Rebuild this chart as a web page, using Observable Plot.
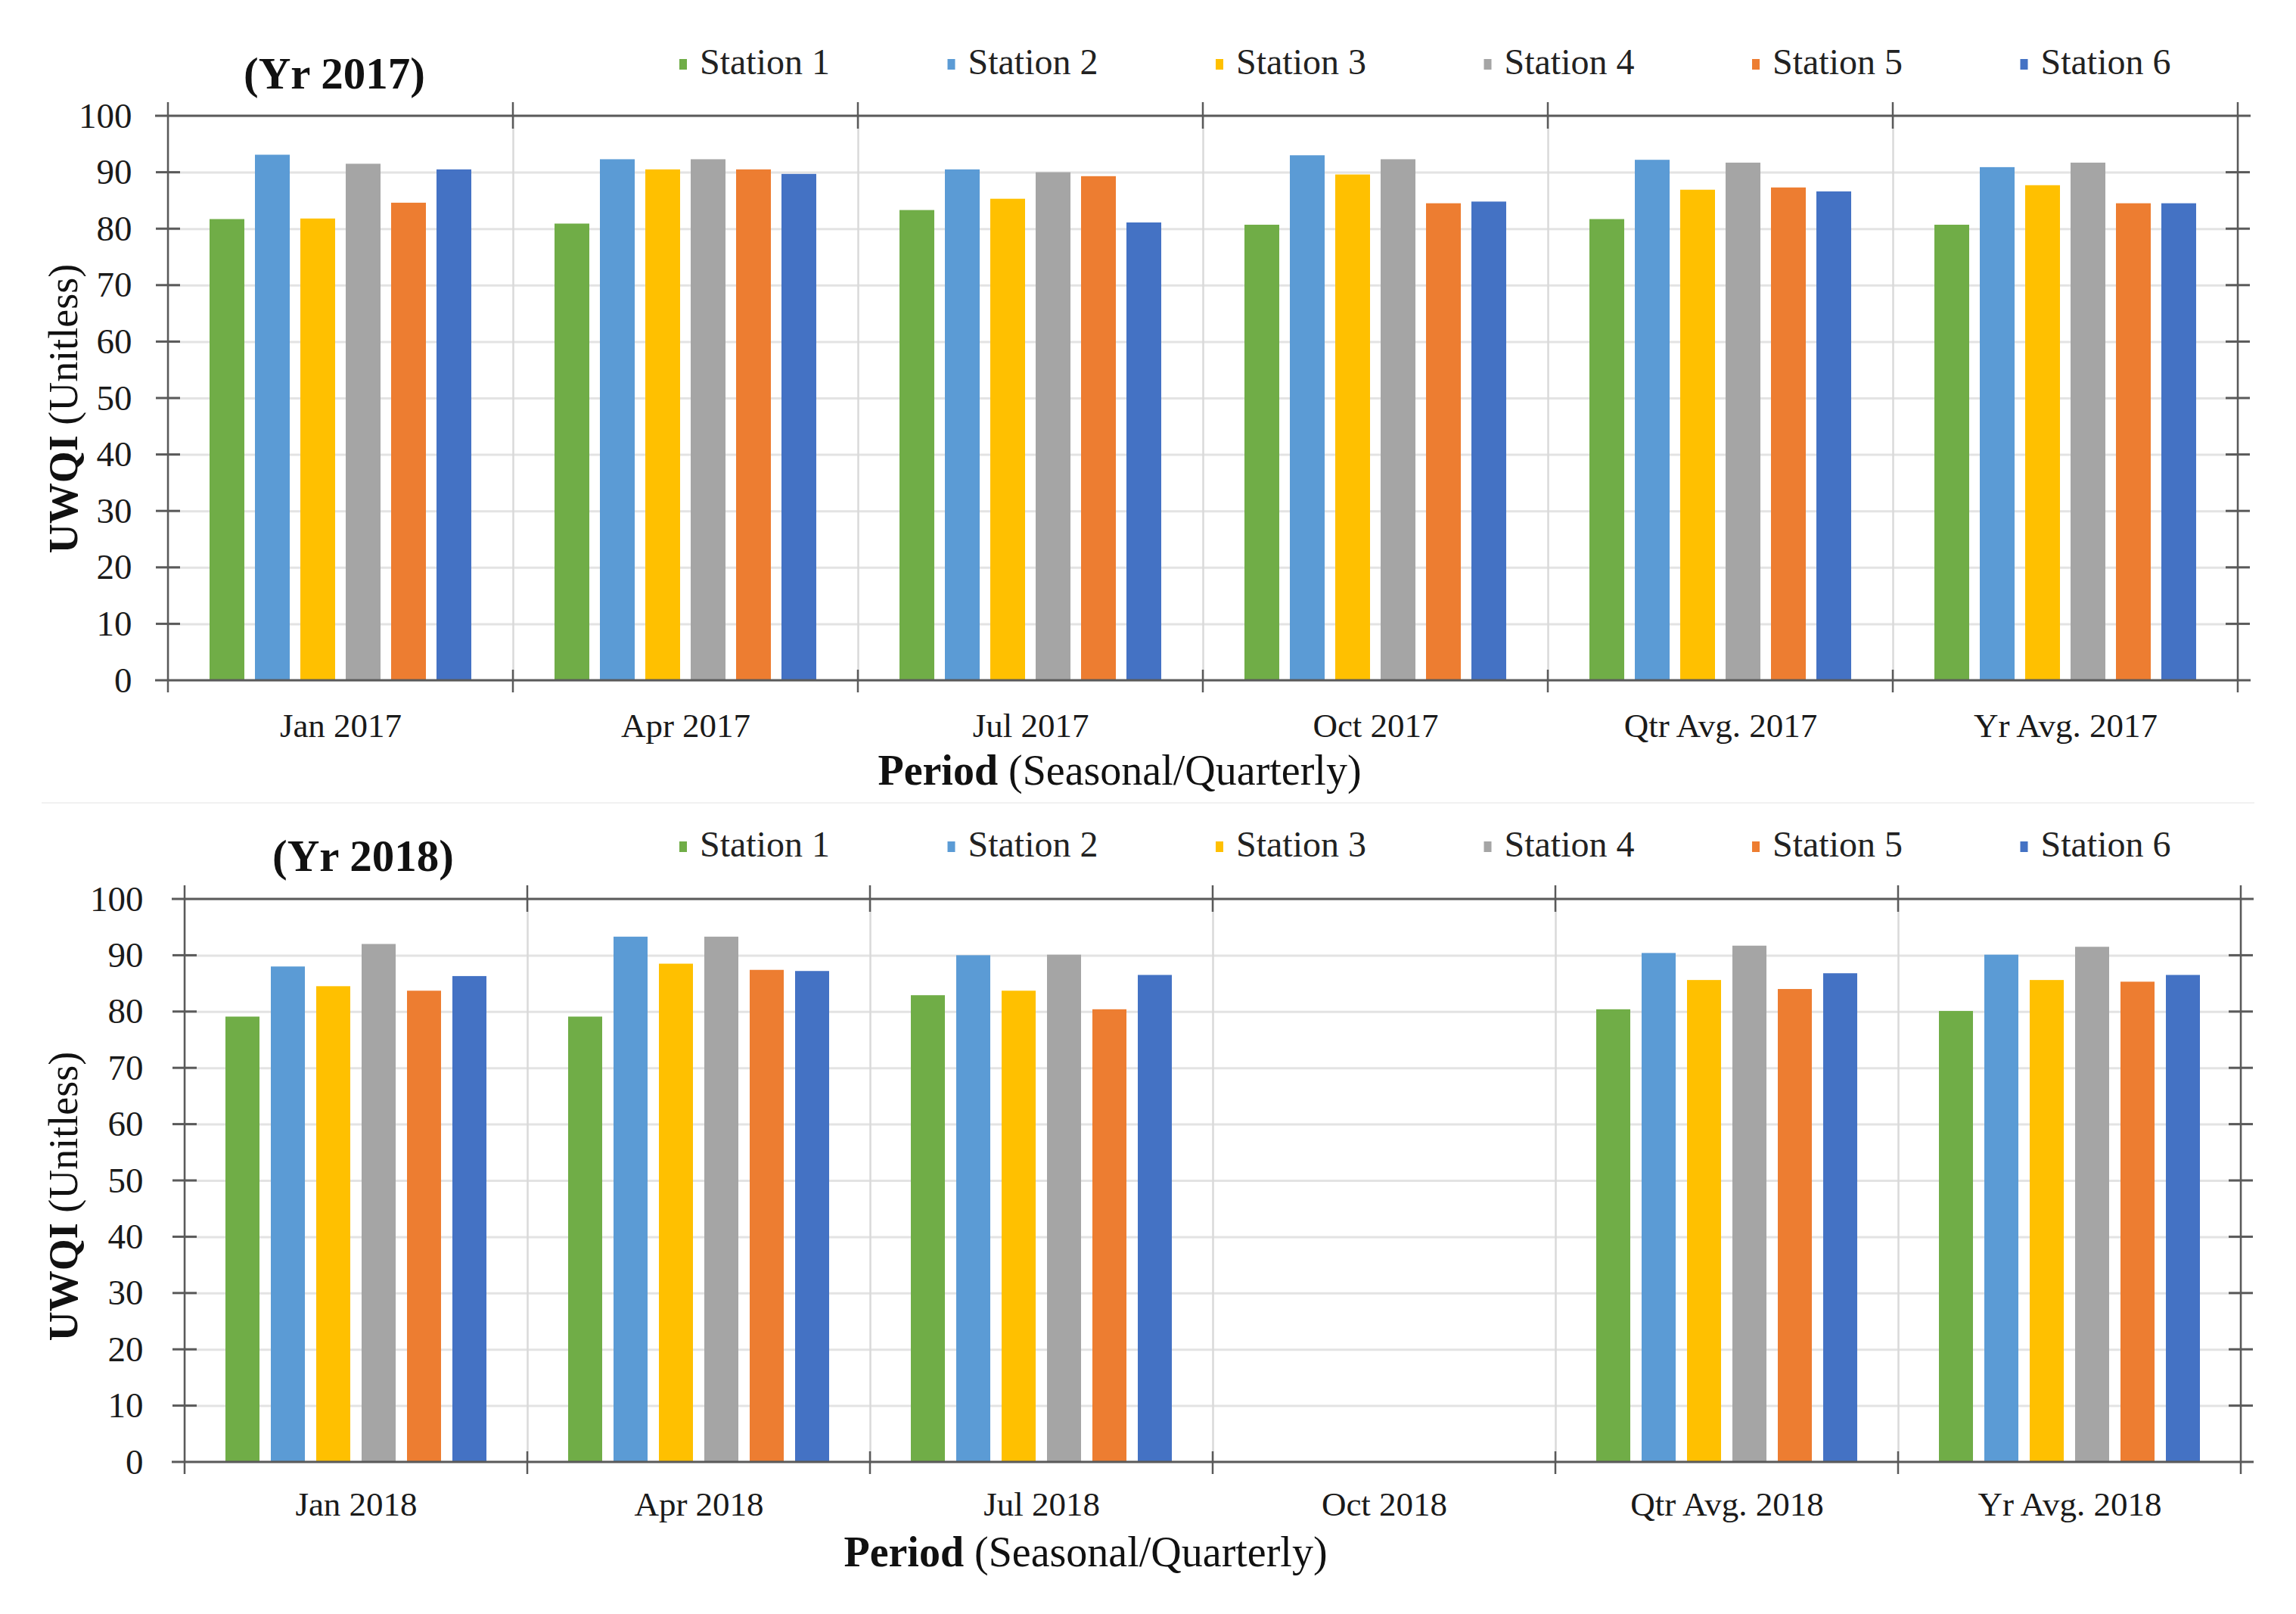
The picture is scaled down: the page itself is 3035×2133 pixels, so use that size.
<!DOCTYPE html>
<html><head><meta charset="utf-8">
<script src="https://cdn.jsdelivr.net/npm/d3@7"></script>
<script src="https://cdn.jsdelivr.net/npm/@observablehq/plot@0.6"></script>
<style>
html,body{margin:0;padding:0;background:#fff;}
#page{position:relative;width:3035px;height:2133px;overflow:hidden;background:#fff;}
.panel{position:absolute;left:0;width:3035px;}
#sep{position:absolute;left:55px;width:2925px;top:1060px;height:2px;background:#f1f1f1;}
</style></head>
<body><div id="page"><div id="p1" class="panel" style="top:0px"></div><div id="sep"></div><div id="p2" class="panel" style="top:1066px"></div></div>
<script>
// ---------- data ----------
const stations = ["Station 1", "Station 2", "Station 3", "Station 4", "Station 5", "Station 6"];
const stationColors = ["#70AD47", "#5B9BD5", "#FFC000", "#A5A5A5", "#ED7D31", "#4472C4"];
const yTicks = [0, 10, 20, 30, 40, 50, 60, 70, 80, 90, 100];

const periods2017 = ["Jan 2017", "Apr 2017", "Jul 2017", "Oct 2017", "Qtr Avg. 2017", "Yr Avg. 2017"];
const s1_2017 = [81.7, 80.9, 83.3, 80.7, 81.7, 80.7];
const s2_2017 = [93.1, 92.3, 90.5, 93.0, 92.2, 90.9];
const s3_2017 = [81.8, 90.5, 85.3, 89.6, 86.9, 87.7];
const s4_2017 = [91.5, 92.3, 90.0, 92.3, 91.7, 91.7];
const s5_2017 = [84.6, 90.5, 89.3, 84.5, 87.3, 84.5];
const s6_2017 = [90.5, 89.7, 81.1, 84.8, 86.6, 84.5];

const periods2018 = ["Jan 2018", "Apr 2018", "Jul 2018", "Oct 2018", "Qtr Avg. 2018", "Yr Avg. 2018"];
const s1_2018 = [79.1, 79.1, 82.9, null, 80.4, 80.1];
const s2_2018 = [88.0, 93.3, 90.0, null, 90.4, 90.1];
const s3_2018 = [84.5, 88.5, 83.7, null, 85.6, 85.6];
const s4_2018 = [92.0, 93.3, 90.1, null, 91.7, 91.5];
const s5_2018 = [83.7, 87.4, 80.4, null, 84.0, 85.3];
const s6_2018 = [86.3, 87.2, 86.5, null, 86.8, 86.5];

const title2017 = "(Yr 2017)";
const title2018 = "(Yr 2018)";
const yTitleBold = "UWQI";
const yTitleRest = " (Unitless)";
const xTitleBold = "Period";
const xTitleRest = " (Seasonal/Quarterly)";

// ---------- helpers ----------
function toRows(periods, series) {
  const rows = [];
  periods.forEach((p, i) => {
    series.forEach((s, j) => rows.push({period: p, station: stations[j], value: s[i]}));
  });
  return rows;
}

const FONT = "'Liberation Serif', 'Times New Roman', serif";
const DARK = "#5a5a5a";

function makeChart(cfg) {
  const rows = toRows(cfg.periods, cfg.series);
  const chart = Plot.plot({
    width: 3035,
    height: cfg.height,
    marginTop: cfg.mt, marginBottom: cfg.mb, marginLeft: cfg.ml, marginRight: cfg.mr,
    style: {fontFamily: FONT, color: "#1a1a1a", background: "#fff", overflow: "visible"},
    fx: {domain: cfg.periods, padding: 0, label: null},
    x: {domain: stations, paddingInner: cfg.padIn, paddingOuter: cfg.padOut, axis: null},
    y: {domain: [0, 100], label: null},
    color: {domain: stations, range: stationColors},
    marks: [
      Plot.ruleY(yTicks.slice(1, -1), {stroke: "#e3e3e3", strokeWidth: 3}),
      Plot.frame({stroke: "#d9d9d9", strokeWidth: 2}),
      Plot.barY(rows, {fx: "period", x: "station", y: "value", fill: "station"}),
      Plot.axisY(yTicks, {anchor: "left", tickSize: 0, tickPadding: cfg.yPad, fontSize: 47, label: null}),
      Plot.axisFx({anchor: "bottom", tickSize: 0, tickPadding: cfg.fxPad, fontSize: 45, label: null})
    ]
  });

  const svg = d3.select(chart);
  const y = chart.scale("y");
  const fx = chart.scale("fx");
  const bw = fx.bandwidth;
  const starts = cfg.periods.map(p => fx.apply(p));
  const x0 = starts[0];
  const x1 = starts[starts.length - 1] + bw;
  const bounds = starts.concat([x1]);
  const yTop = y.apply(100), yBot = y.apply(0);

  const g = svg.append("g").attr("stroke", DARK).attr("fill", "none");
  [yTop, yBot].forEach(yy => {
    g.append("line").attr("x1", x0 - 17).attr("x2", x1 + 17).attr("y1", yy).attr("y2", yy).attr("stroke-width", 3);
  });
  bounds.forEach((b, i) => {
    if (i === 0 || i === bounds.length - 1) {
      g.append("line").attr("x1", b).attr("x2", b).attr("y1", yTop - 18).attr("y2", yBot + 16).attr("stroke-width", 2.5);
    } else {
      g.append("line").attr("x1", b).attr("x2", b).attr("y1", yTop - 18).attr("y2", yTop + 17).attr("stroke-width", 2.5);
      g.append("line").attr("x1", b).attr("x2", b).attr("y1", yBot - 14).attr("y2", yBot + 16).attr("stroke-width", 2.5);
    }
  });
  yTicks.slice(1, -1).forEach(v => {
    const yy = y.apply(v);
    [x0, x1].forEach(xx => {
      g.append("line").attr("x1", xx - 16).attr("x2", xx + 16).attr("y1", yy).attr("y2", yy).attr("stroke-width", 3);
    });
  });

  const t = svg.append("g").attr("font-family", FONT).attr("fill", "#111").attr("text-anchor", "start");
  t.append("text").attr("x", cfg.titleX).attr("y", cfg.titleY).attr("font-size", 59).attr("font-weight", "bold").text(cfg.title);
  stations.forEach((s, i) => {
    const lx = 898 + i * 354.5;
    t.append("rect").attr("x", lx).attr("y", cfg.legY - 20).attr("width", 10).attr("height", 14).attr("fill", stationColors[i]);
    t.append("text").attr("x", lx + 27).attr("y", cfg.legY).attr("font-size", 48).attr("fill", "#222").text(s);
  });
  const yt = t.append("text").attr("transform", `translate(${cfg.yTitleX},${cfg.yTitleY}) rotate(-90)`)
    .attr("text-anchor", "middle").attr("font-size", 54);
  yt.append("tspan").attr("font-weight", "bold").text(yTitleBold);
  yt.append("tspan").text(yTitleRest);
  const xt = t.append("text").attr("x", cfg.xTitleX).attr("y", cfg.xTitleY).attr("text-anchor", "middle").attr("font-size", 56);
  xt.append("tspan").attr("font-weight", "bold").text(xTitleBold);
  xt.append("tspan").text(xTitleRest);

  return chart;
}

document.getElementById("p1").appendChild(makeChart({
  periods: periods2017,
  series: [s1_2017, s2_2017, s3_2017, s4_2017, s5_2017, s6_2017],
  title: title2017,
  height: 1066, mt: 153, mb: 167, ml: 220, mr: 75,
  padIn: 0.23, padOut: 0.86, yPad: 48, fxPad: 43,
  titleX: 322, titleY: 117, legY: 98,
  yTitleX: 102, yTitleY: 540,
  xTitleX: 1480, xTitleY: 1037
}));

document.getElementById("p2").appendChild(makeChart({
  periods: periods2018,
  series: [s1_2018, s2_2018, s3_2018, s4_2018, s5_2018, s6_2018],
  title: title2018,
  height: 1067, mt: 122, mb: 201, ml: 244, mr: 73,
  padIn: 0.25, padOut: 0.9, yPad: 55, fxPad: 39,
  titleX: 360, titleY: 85, legY: 66,
  yTitleX: 102, yTitleY: 515,
  xTitleX: 1435, xTitleY: 1004
}));
</script>
</body></html>
